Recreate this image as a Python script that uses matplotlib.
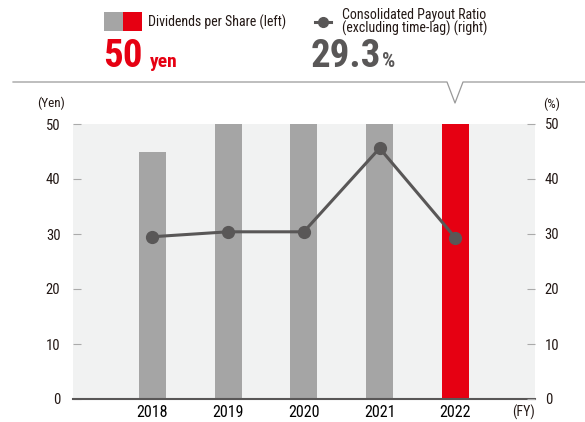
import matplotlib
matplotlib.use("Agg")
import matplotlib.pyplot as plt
from matplotlib import font_manager as fm

names = {f.name for f in fm.fontManager.ttflist}
FONT_PREFS = ['Roboto Condensed', 'Archivo Narrow', 'PT Sans Narrow', 'Barlow Condensed', 'Liberation Sans Narrow', 'Liberation Sans']
main_font = next(n for n in FONT_PREFS if n in names)
plt.rcParams['font.family'] = [main_font, 'DejaVu Sans']

years = ['2018', '2019', '2020', '2021', '2022']
dividends = [45, 50, 50, 50, 50]
payout = [29.5, 30.4, 30.4, 45.6, 29.3]
yticks = [0, 10, 20, 30, 40, 50]

GRAY = '#a5a5a5'
RED = '#e60012'
DARK = '#595757'
BG = '#f1f2f2'
TXT = '#231815'

fig = plt.figure(figsize=(5.85, 4.22), dpi=100)
ax = fig.add_axes([73/585, 23/422, 462/585, 275/422])
ax.set_facecolor(BG)
x = list(range(len(years)))
colors = [GRAY]*4 + [RED]
ax.bar(x, dividends, width=0.356, color=colors, zorder=2)
ax.set_xlim(-1.045, 5.05)
ax.set_ylim(0, 50)
for s in ['top', 'right', 'left']:
    ax.spines[s].set_visible(False)
ax.spines['bottom'].set_color('#595757')
ax.spines['bottom'].set_linewidth(1.5)
ax.spines['bottom'].set_zorder(5)
ax.set_yticks(yticks)
ax.set_yticklabels([str(v) for v in yticks], fontsize=10.5, color=TXT)
ax.tick_params(axis='y', direction='in', length=6, color='#aaaaaa', width=0.8, pad=9)
ax.set_xticks(x)
ax.set_xticklabels(years, fontsize=11.5, color='#000000', fontweight='normal')
ax.tick_params(axis='x', length=0, pad=4)

ax2 = ax.twinx()
ax2.set_ylim(0, 50)
for s in ['top', 'right', 'left', 'bottom']:
    ax2.spines[s].set_visible(False)
ax2.set_yticks(yticks)
ax2.set_yticklabels([str(v) for v in yticks], fontsize=10.5, color=TXT)
ax2.tick_params(axis='y', direction='in', length=6, color='#aaaaaa', width=0.8, pad=7)
ax2.plot(x, payout, color=DARK, lw=2.2, marker='o', ms=8.5, zorder=4, clip_on=False)

fig.text(65/585, 1-103/422, '(Yen)', ha='right', va='center', fontsize=9.5, color=TXT)
fig.text(543/585, 1-104/422, '(%)', ha='left', va='center', fontsize=9.5, color=TXT)
fig.text(535/585, 1-412/422, '(FY)', ha='right', va='center', fontsize=10, color=TXT)

# header line with notch
hx = [13, 447, 455, 463, 585]
hy = [82, 82, 103, 82, 82]
fig.add_artist(plt.Line2D([v/585 for v in hx], [1-v/422 for v in hy], color='#999999', lw=0.9))

# legend
fig.add_artist(plt.Rectangle((104/585, 1-31/422), 19/585, 19/422, color=GRAY, lw=0))
fig.add_artist(plt.Rectangle((123/585, 1-31/422), 19/585, 19/422, color=RED, lw=0))
fig.text(148/585, 1-22/422, 'Dividends per Share (left)', ha='left', va='center', fontsize=10, color=TXT)
fig.add_artist(plt.Line2D([315/585, 331/585], [1-22/422, 1-22/422], color=DARK, lw=2.2, marker=None))
fig.add_artist(plt.Line2D([323/585], [1-22/422], color=DARK, marker='o', ms=7))
fig.text(342/585, 1-15/422, 'Consolidated Payout Ratio', ha='left', va='center', fontsize=10, color=TXT)
fig.text(342/585, 1-28.5/422, '(excluding time-lag) (right)', ha='left', va='center', fontsize=10, color=TXT)

t1 = fig.text(103/585, 1-67/422, '50', ha='left', va='baseline', fontsize=28, color=RED, fontweight='bold')
fig.text(150/585, 1-67/422, 'yen', ha='left', va='baseline', fontsize=14, color=RED, fontweight='bold')
t2 = fig.text(311/585, 1-67/422, '29.3', ha='left', va='baseline', fontsize=28, color=DARK, fontweight='bold')
fig.canvas.draw()
bb = t2.get_window_extent()
fig.text(bb.x1/fig.bbox.width + 1/585, 1-67/422, '%', ha='left', va='baseline', fontsize=15, color=DARK, fontweight='bold')

fig.savefig('out.png', dpi=100)
